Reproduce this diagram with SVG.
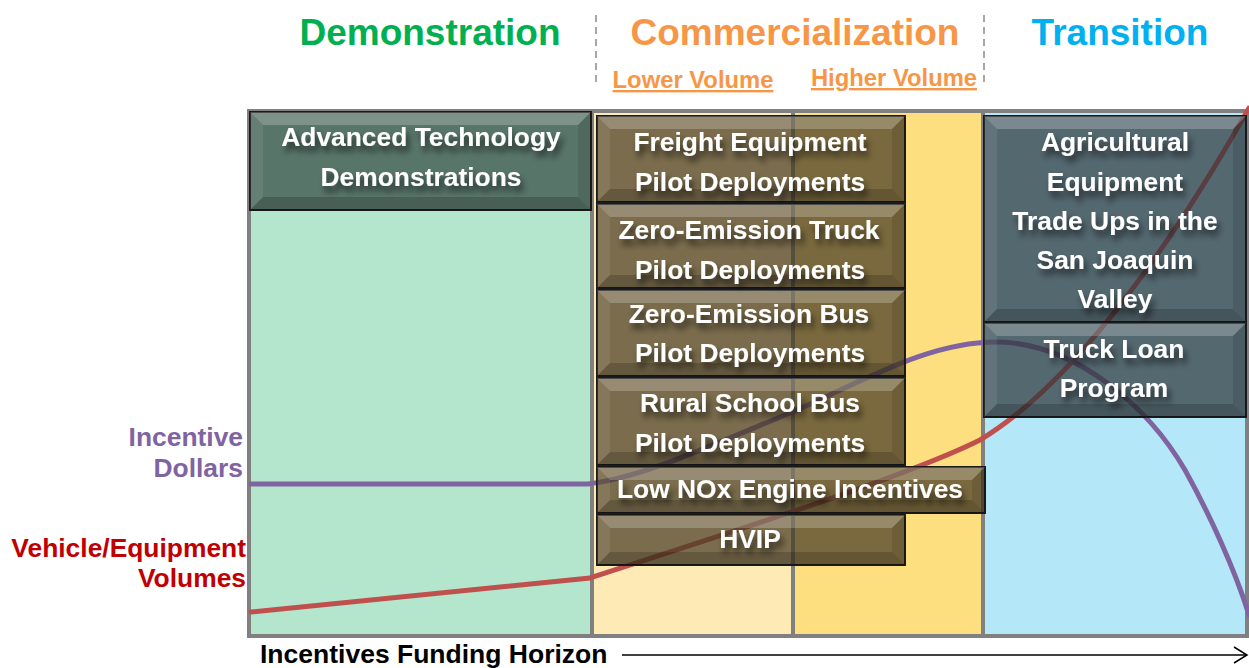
<svg xmlns="http://www.w3.org/2000/svg" width="1249" height="668" viewBox="0 0 1249 668">
  <style>
    .title { font-family: "Liberation Sans", Arial, sans-serif; font-weight: bold; font-size: 37px; text-anchor: middle; }
    .sub { font-family: "Liberation Sans", Arial, sans-serif; font-weight: bold; font-size: 23.8px; text-anchor: middle; fill: #f79646; text-decoration: underline; }
    .axis { font-family: "Liberation Sans", Arial, sans-serif; font-weight: bold; font-size: 26.4px; text-anchor: end; }
    .lbl { font-family: "Liberation Sans", Arial, sans-serif; font-weight: bold; font-size: 26.4px; text-anchor: middle; fill: #ffffff; filter: url(#ts); }
    .frame { stroke: #808080; stroke-width: 4; fill: none; }
    .box { stroke: #1a1a1a; stroke-width: 2; fill-opacity: 0.72; }
    .demo { fill: #354a44; }
    .comm { fill: #473b24; }
    .tran { fill: #2f373b; }
    .bt { fill: #ffffff; fill-opacity: 0.22; }
    .bl { fill: #ffffff; fill-opacity: 0.08; }
    .br { fill: #000000; fill-opacity: 0.1; }
    .bb { fill: #000000; fill-opacity: 0.18; }
    .sep { stroke: #a6a6a6; stroke-width: 2; stroke-dasharray: 7 5; }
  </style>
  <defs>
    <filter id="ts" x="-10%" y="-40%" width="130%" height="200%">
      <feDropShadow dx="3" dy="6" stdDeviation="3" flood-color="#000000" flood-opacity="0.6"/>
    </filter>
  </defs>

  <rect width="1249" height="668" fill="#ffffff"/>

  <!-- Phase headings -->
  <g id="headings">
    <text class="title" x="430" y="45" fill="#00b050">Demonstration</text>
    <text class="title" x="795" y="45" fill="#f79646">Commercialization</text>
    <text class="title" x="1120" y="45" fill="#00b0f0">Transition</text>
    <text class="sub" x="693" y="88">Lower Volume</text>
    <text class="sub" x="894" y="86">Higher Volume</text>
    <line class="sep" x1="596" y1="15" x2="596" y2="86"/>
    <line class="sep" x1="984" y1="15" x2="984" y2="86"/>
  </g>

  <!-- Phase columns -->
  <g id="panels">
    <rect x="249" y="112" width="343" height="524" fill="#b3e6cc"/>
    <rect x="592" y="112" width="201" height="524" fill="#feeab5"/>
    <rect x="793" y="112" width="190" height="524" fill="#fedf80"/>
    <rect x="983" y="112" width="264" height="524" fill="#b4e7f8"/>
    <path class="frame" d="M247,111 H1249 M249,111 V638 M247,636 H1249 M592,111 V636 M793,111 V636 M983,111 V636 M1247,111 V636"/>
  </g>

  <!-- Trend curves -->
  <g id="connectors" fill="none" stroke-width="5" stroke-linecap="round">
    <path id="volumes" stroke="#c0504d" d="M251,612 L590,578 C690,545 900,480 980,440 C1080,380 1180,230 1249,108"/>
    <path id="dollars" stroke="#8064a2" d="M251,484 H588 C640,478 700,450 790,413 C860,383 930,340 1000,342 C1080,345 1150,410 1185,470 C1210,515 1235,570 1249,615"/>
  </g>

  <!-- Axis labels -->
  <g id="axis-labels">
    <text class="axis" x="243" y="446" fill="#8064a2">Incentive</text>
    <text class="axis" x="243" y="477" fill="#8064a2">Dollars</text>
    <text class="axis" x="246" y="557" fill="#c00000">Vehicle/Equipment</text>
    <text class="axis" x="246" y="587" fill="#c00000">Volumes</text>
    <text x="260" y="663" font-family="'Liberation Sans', Arial, sans-serif" font-weight="bold" font-size="26.5px" fill="#000000">Incentives Funding Horizon</text>
    <line x1="622" y1="655" x2="1246" y2="655" stroke="#000000" stroke-width="1.5"/>
    <polyline points="1234,647 1247,655 1234,663" fill="none" stroke="#000000" stroke-width="1.5"/>
  </g>

  <!-- Programs -->
  <g id="advanced-tech">
    <rect class="box demo" x="250" y="112" width="341" height="98"/>
    <polygon class="bt" points="250,112 591,112 578,125 263,125"/>
    <polygon class="bl" points="250,112 263,125 263,197 250,210"/>
    <polygon class="br" points="591,112 591,210 578,197 578,125"/>
    <polygon class="bb" points="250,210 263,197 578,197 591,210"/>
    <text class="lbl" x="421" y="146">Advanced Technology</text>
    <text class="lbl" x="421" y="186">Demonstrations</text>
  </g>

  <g id="freight">
    <rect class="box comm" x="597" y="116" width="308" height="86"/>
    <polygon class="bt" points="597,116 905,116 892,129 610,129"/>
    <polygon class="bl" points="597,116 610,129 610,189 597,202"/>
    <polygon class="br" points="905,116 905,202 892,189 892,129"/>
    <polygon class="bb" points="597,202 610,189 892,189 905,202"/>
    <text class="lbl" x="750" y="151">Freight Equipment</text>
    <text class="lbl" x="750" y="191">Pilot Deployments</text>
  </g>

  <g id="ze-truck">
    <rect class="box comm" x="597" y="204" width="308" height="84"/>
    <polygon class="bt" points="597,204 905,204 892,217 610,217"/>
    <polygon class="bl" points="597,204 610,217 610,275 597,288"/>
    <polygon class="br" points="905,204 905,288 892,275 892,217"/>
    <polygon class="bb" points="597,288 610,275 892,275 905,288"/>
    <text class="lbl" x="749" y="239">Zero-Emission Truck</text>
    <text class="lbl" x="750" y="279">Pilot Deployments</text>
  </g>

  <g id="ze-bus">
    <rect class="box comm" x="597" y="290" width="308" height="86"/>
    <polygon class="bt" points="597,290 905,290 892,303 610,303"/>
    <polygon class="bl" points="597,290 610,303 610,363 597,376"/>
    <polygon class="br" points="905,290 905,376 892,363 892,303"/>
    <polygon class="bb" points="597,376 610,363 892,363 905,376"/>
    <text class="lbl" x="749" y="323">Zero-Emission Bus</text>
    <text class="lbl" x="750" y="362">Pilot Deployments</text>
  </g>

  <g id="school-bus">
    <rect class="box comm" x="597" y="378" width="308" height="87"/>
    <polygon class="bt" points="597,378 905,378 892,391 610,391"/>
    <polygon class="bl" points="597,378 610,391 610,452 597,465"/>
    <polygon class="br" points="905,378 905,465 892,452 892,391"/>
    <polygon class="bb" points="597,465 610,452 892,452 905,465"/>
    <text class="lbl" x="750" y="412">Rural School Bus</text>
    <text class="lbl" x="750" y="452">Pilot Deployments</text>
  </g>

  <g id="low-nox">
    <rect class="box comm" x="597" y="467" width="388" height="46"/>
    <polygon class="bt" points="597,467 985,467 972,480 610,480"/>
    <polygon class="bl" points="597,467 610,480 610,500 597,513"/>
    <polygon class="br" points="985,467 985,513 972,500 972,480"/>
    <polygon class="bb" points="597,513 610,500 972,500 985,513"/>
    <text class="lbl" x="790" y="498">Low NOx Engine Incentives</text>
  </g>

  <g id="hvip">
    <rect class="box comm" x="597" y="515" width="308" height="50"/>
    <polygon class="bt" points="597,515 905,515 892,528 610,528"/>
    <polygon class="bl" points="597,515 610,528 610,552 597,565"/>
    <polygon class="br" points="905,515 905,565 892,552 892,528"/>
    <polygon class="bb" points="597,565 610,552 892,552 905,565"/>
    <text class="lbl" x="750" y="548">HVIP</text>
  </g>

  <g id="ag-trade-up">
    <rect class="box tran" x="984" y="116" width="262" height="206"/>
    <polygon class="bt" points="984,116 1246,116 1233,129 997,129"/>
    <polygon class="bl" points="984,116 997,129 997,309 984,322"/>
    <polygon class="br" points="1246,116 1246,322 1233,309 1233,129"/>
    <polygon class="bb" points="984,322 997,309 1233,309 1246,322"/>
    <text class="lbl" x="1115" y="151">Agricultural</text>
    <text class="lbl" x="1115" y="191">Equipment</text>
    <text class="lbl" x="1115" y="230">Trade Ups in the</text>
    <text class="lbl" x="1115" y="269">San Joaquin</text>
    <text class="lbl" x="1115" y="308">Valley</text>
  </g>

  <g id="truck-loan">
    <rect class="box tran" x="984" y="323" width="262" height="94"/>
    <polygon class="bt" points="984,323 1246,323 1233,336 997,336"/>
    <polygon class="bl" points="984,323 997,336 997,404 984,417"/>
    <polygon class="br" points="1246,323 1246,417 1233,404 1233,336"/>
    <polygon class="bb" points="984,417 997,404 1233,404 1246,417"/>
    <text class="lbl" x="1114" y="358">Truck Loan</text>
    <text class="lbl" x="1114" y="397">Program</text>
  </g>
</svg>
